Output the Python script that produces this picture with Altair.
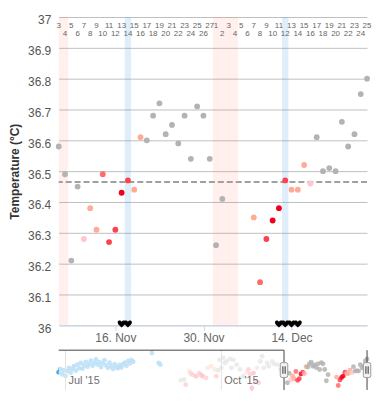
import altair as alt
import pandas as pd
from datetime import date, timedelta

FONT = "Liberation Sans"

# ---------------- main window data (Nov 7 – Dec 26, 2015) ----------------
main_dates = [
    "2015-11-07", "2015-11-08", "2015-11-09", "2015-11-10", "2015-11-11", "2015-11-12",
    "2015-11-13", "2015-11-14", "2015-11-15", "2015-11-16", "2015-11-17", "2015-11-18",
    "2015-11-19", "2015-11-20", "2015-11-21", "2015-11-22", "2015-11-23", "2015-11-24",
    "2015-11-25", "2015-11-26", "2015-11-27", "2015-11-28", "2015-11-29", "2015-11-30",
    "2015-12-01", "2015-12-02", "2015-12-03",
    "2015-12-08", "2015-12-09", "2015-12-10", "2015-12-11", "2015-12-12", "2015-12-13",
    "2015-12-14", "2015-12-15", "2015-12-16", "2015-12-17", "2015-12-18", "2015-12-19",
    "2015-12-20", "2015-12-21", "2015-12-22", "2015-12-23", "2015-12-24", "2015-12-25",
    "2015-12-26",
]
main_temps = [
    36.58, 36.49, 36.21, 36.45, 36.28, 36.38, 36.31, 36.49, 36.27, 36.31, 36.43, 36.47,
    36.44, 36.61, 36.60, 36.68, 36.72, 36.62, 36.65, 36.59, 36.68, 36.54, 36.71, 36.68,
    36.54, 36.26, 36.41,
    36.35, 36.14, 36.28, 36.34, 36.38, 36.47, 36.44, 36.44, 36.52, 36.46, 36.61, 36.50,
    36.51, 36.50, 36.66, 36.58, 36.62, 36.75, 36.80,
]
main_levels = [
    "0", "0", "0", "0", "1", "2", "2", "3", "4", "4", "5", "4",
    "2", "2", "0", "0", "0", "0", "0", "0", "0", "0", "0", "0",
    "0", "0", "0",
    "2", "3", "4", "5", "5", "4", "2", "2", "2", "1", "0", "0",
    "0", "0", "0", "0", "0", "0", "0",
]

# ---------------- earlier data, only visible in the navigator ----------------
past_dates = [
    "2015-06-27", "2015-06-28", "2015-06-29", "2015-06-30", "2015-07-01", "2015-07-02",
    "2015-07-03", "2015-07-04", "2015-07-05", "2015-07-06", "2015-07-07", "2015-07-08",
    "2015-07-09", "2015-07-10", "2015-07-11", "2015-07-12", "2015-07-13", "2015-07-14",
    "2015-07-15", "2015-07-16", "2015-07-17", "2015-07-18", "2015-07-19", "2015-07-20",
    "2015-07-21", "2015-07-22", "2015-07-23", "2015-07-24", "2015-07-25", "2015-07-26",
    "2015-07-27", "2015-07-28", "2015-07-29", "2015-07-30", "2015-07-31", "2015-08-01",
    "2015-08-02", "2015-08-03", "2015-08-04", "2015-08-05", "2015-08-06", "2015-08-07",
    "2015-08-08", "2015-08-09", "2015-08-10", "2015-08-21", "2015-08-25", "2015-08-26",
    "2015-09-07", "2015-09-09", "2015-09-10", "2015-09-12", "2015-09-13", "2015-09-14",
    "2015-09-16", "2015-09-18", "2015-09-19", "2015-09-20", "2015-09-22", "2015-09-23",
    "2015-09-25", "2015-09-27", "2015-09-28", "2015-09-29", "2015-09-30", "2015-10-01",
    "2015-10-02", "2015-10-03", "2015-10-04", "2015-10-06", "2015-10-07", "2015-10-08",
    "2015-10-10", "2015-10-12", "2015-10-14", "2015-10-16", "2015-10-17", "2015-10-18",
    "2015-10-19", "2015-10-20", "2015-10-21", "2015-10-22", "2015-10-23", "2015-10-24",
    "2015-10-25", "2015-10-26", "2015-10-28", "2015-10-29", "2015-10-31", "2015-11-01",
    "2015-11-03", "2015-11-05",
]
past_temps = [
    36.47, 36.55, 36.42, 36.52, 36.38, 36.50, 36.58, 36.46, 36.55, 36.62, 36.51, 36.66,
    36.57, 36.70, 36.56, 36.64, 36.73, 36.61, 36.68, 36.76, 36.63, 36.70, 36.79, 36.66,
    36.72, 36.60, 36.69, 36.77, 36.64, 36.58, 36.71, 36.62, 36.55, 36.67, 36.60, 36.57,
    36.65, 36.59, 36.67, 36.71, 36.63, 36.75, 36.69, 36.78, 36.73, 36.95, 36.70, 36.66,
    36.27, 36.29, 36.16, 36.50, 36.44, 36.41, 36.37, 36.45, 36.40, 36.37, 36.33, 36.58,
    36.62, 36.54, 36.37, 36.52, 36.78, 36.58, 36.83, 36.70, 36.74, 36.80, 36.58, 36.78,
    36.66, 36.54, 36.37, 36.47, 36.54, 36.42, 36.08, 36.45, 36.25, 36.58, 36.21, 36.74,
    36.87, 36.58, 36.70, 36.62, 36.74, 36.68, 36.66, 36.54,
]
past_levels = ["past"] * 48 + [
    "0", "0", "3", "2", "3", "3", "4", "3", "4", "4", "3", "2",
    "2", "2", "3", "0", "0", "0", "0", "0", "0", "0", "0", "0",
    "0", "0", "0", "2", "3", "3", "4", "4", "3", "2", "3", "0",
    "0", "0", "0", "0", "0", "0", "0", "0",
]

# ---------------- annotations ----------------
period_start = ["2015-11-04T12:00:00", "2015-12-01T12:00:00"]
period_end = ["2015-11-08T12:00:00", "2015-12-05T12:00:00"]
ovulation_start = ["2015-11-17T12:00:00", "2015-12-12T12:00:00"]
ovulation_end = ["2015-11-18T12:00:00", "2015-12-13T12:00:00"]
heart_dates = ["2015-11-17", "2015-11-18", "2015-12-12", "2015-12-13", "2015-12-14", "2015-12-15"]
cover_line = 36.465
cycle_starts = ["2015-11-05", "2015-12-02"]

y_ticks = [36.0, 36.1, 36.2, 36.3, 36.4, 36.5, 36.6, 36.7, 36.8, 36.9, 37.0]
nav_tick_dates = ["2015-07-01", "2015-10-01"]
nav_tick_labels = ["Jul '15", "Oct '15"]
selection = ["2015-11-07", "2015-12-26"]
nav_range = ["2015-06-27", "2015-12-26"]

level_domain = ["past", "0", "1", "2", "3", "4", "5"]
level_colors = ["#2196e0", "#b3b3b3", "#ffc6cf", "#ffab96", "#ff6b6b", "#ff4050", "#f0001e"]

PLOT_W = 310


def ts(s):
    return s if "T" in s else s + "T00:00:00"


def dt(s):
    y, m, d = (int(v) for v in s.split("-"))
    return alt.DateTime(year=y, month=m, date=d)


main_df = pd.DataFrame({"date": [ts(d) for d in main_dates], "temp": main_temps, "level": main_levels})
nav_df = pd.DataFrame({
    "date": [ts(d) for d in past_dates + main_dates],
    "temp": past_temps + main_temps,
    "level": past_levels + main_levels,
})

# cycle-day labels along the top
d0 = date.fromisoformat(selection[0])
d1 = date.fromisoformat(selection[1])
starts = [date.fromisoformat(s) for s in cycle_starts]
rows = []
d = d0
while d <= d1:
    st = max(s for s in starts if s <= d)
    cd = (d - st).days + 1
    rows.append({"date": ts(d.isoformat()), "label": str(cd), "odd": cd % 2 == 1})
    d += timedelta(days=1)
cyc_df = pd.DataFrame(rows)

main_scale = alt.Scale(domain=[dt(selection[0]), dt(selection[1])])
y_scale = alt.Scale(domain=[36, 37], nice=False, zero=False)

x_axis = alt.Axis(
    values=[dt("2015-11-16"), dt("2015-11-30"), dt("2015-12-14")],
    format="%-d. %b", title=None, labelColor="#666666", labelFontSize=12,
    tickColor="#ccd6eb", domainColor="#ccd6eb", tickSize=5, labelPadding=2, grid=False,
)
y_axis = alt.Axis(
    values=y_ticks, format=".1~f", title="Temperature (°C)", titleFontWeight="bold",
    titleFontSize=12, titleColor="#333333", titlePadding=6, labelFontSize=12,
    labelColor="#555555", labelPadding=8, labelOffset=3, ticks=False, domain=False,
    gridColor="#c0c0c0", gridWidth=1,
)


def mx(field):
    return alt.X(field, scale=main_scale, axis=x_axis)


def my(field):
    return alt.Y(field, scale=y_scale, axis=y_axis)


band_df_p = pd.DataFrame({"s": period_start, "e": period_end})
band_df_o = pd.DataFrame({"s": ovulation_start, "e": ovulation_end})

pink = alt.Chart(band_df_p).mark_rect(color="#ff6450", opacity=0.1, clip=True).encode(
    x=mx("s:T"), x2="e:T")
blue = alt.Chart(band_df_o).mark_rect(color="#3ca0e6", opacity=0.17, clip=True).encode(
    x=mx("s:T"), x2="e:T")

cover = alt.Chart(pd.DataFrame({"v": [cover_line]})).mark_rule(
    color="#a0a0a0", strokeWidth=2, strokeDash=[6, 3]).encode(y=my("v:Q"))

points = alt.Chart(main_df).mark_circle(size=34, opacity=1).encode(
    x=mx("date:T"),
    y=my("temp:Q"),
    color=alt.Color("level:N", scale=alt.Scale(domain=level_domain, range=level_colors), legend=None),
)

HEART = ("M0,0.9 C-0.3,0.6 -1,0.15 -1,-0.35 C-1,-0.85 -0.3,-1 0,-0.5 "
         "C0.3,-1 1,-0.85 1,-0.35 C1,0.15 0.3,0.6 0,0.9 Z")
hearts = alt.Chart(pd.DataFrame({"date": [ts(h) for h in heart_dates], "v": [36.0] * len(heart_dates)})).mark_point(
    shape=HEART, filled=True, color="black", size=64, opacity=1, yOffset=-1.5).encode(
    x=mx("date:T"), y=my("v:Q"))

top_odd = alt.Chart(cyc_df[cyc_df["odd"]]).mark_text(
    fontSize=8, color="#666666", baseline="middle").encode(
    x=mx("date:T"), y=alt.value(9), text="label:N")
top_even = alt.Chart(cyc_df[~cyc_df["odd"]]).mark_text(
    fontSize=8, color="#666666", baseline="middle").encode(
    x=mx("date:T"), y=alt.value(17), text="label:N")

main = alt.layer(pink, blue, cover, points, hearts, top_odd, top_even).properties(width=PLOT_W, height=310)

# ---------------- navigator ----------------
nav_scale = alt.Scale(domain=[dt(nav_range[0]), dt(nav_range[1])])
nav_y = alt.Scale(domain=[36.03, 37.02], nice=False, zero=False)


def nx(field):
    return alt.X(field, scale=nav_scale, axis=None)


nav_pts = alt.Chart(nav_df).mark_circle(size=24, opacity=0.85).encode(
    x=nx("date:T"),
    y=alt.Y("temp:Q", scale=nav_y, axis=None),
    color=alt.Color("level:N", scale=alt.Scale(domain=level_domain, range=level_colors), legend=None),
)
mask = alt.Chart(pd.DataFrame({"s": [ts(nav_range[0])], "e": [ts(selection[0])]})).mark_rect(
    color="white", opacity=0.7).encode(x=nx("s:T"), x2="e:T")
nav_grid = alt.Chart(pd.DataFrame({"date": [ts(t) for t in nav_tick_dates]})).mark_rule(
    color="#e3e3e3").encode(x=nx("date:T"))
nav_lbl = alt.Chart(pd.DataFrame({"date": [ts(t) for t in nav_tick_dates], "label": nav_tick_labels})).mark_text(
    align="left", dx=3, baseline="middle", fontSize=11, color="#707070").encode(
    x=nx("date:T"), y=alt.value(31), text="label:N")
outline_top = alt.Chart(pd.DataFrame({"s": [ts(nav_range[0])], "e": [ts(selection[0])]})).mark_rule(
    color="#444444").encode(x=nx("s:T"), x2="e:T", y=alt.value(0))
outline_sides = alt.Chart(pd.DataFrame({"date": [ts(s) for s in selection]})).mark_rule(
    color="#444444").encode(x=nx("date:T"))

HANDLE = ("M-0.5,-0.75 Q-0.5,-1 -0.25,-1 L0.25,-1 Q0.5,-1 0.5,-0.75 L0.5,0.75 "
          "Q0.5,1 0.25,1 L-0.25,1 Q-0.5,1 -0.5,0.75 Z")
GRIP = "M-0.15,-0.5 L-0.15,0.5 M0.15,-0.5 L0.15,0.5"
handle_df = pd.DataFrame({"date": [ts(s) for s in selection]})
handles = alt.Chart(handle_df).mark_point(
    shape=HANDLE, filled=True, fill="#f2f2f2", stroke="#999999", strokeWidth=1, size=225, opacity=1).encode(
    x=nx("date:T"), y=alt.value(20))
grips = alt.Chart(handle_df).mark_point(
    shape=GRIP, filled=False, stroke="#333333", strokeWidth=1, size=225, opacity=1).encode(
    x=nx("date:T"), y=alt.value(20))

nav = alt.layer(nav_pts, mask, nav_grid, nav_lbl, outline_top, outline_sides, handles, grips).properties(
    width=PLOT_W, height=40)

chart = alt.vconcat(main, nav, spacing=25, bounds="flush").resolve_scale(
    x="independent", y="independent", color="shared"
).properties(
    padding={"left": 0, "top": 5, "right": 0, "bottom": 0},
).configure(font=FONT).configure_view(stroke=None)

chart.save("out.html", embed_options={"renderer": "svg", "actions": False})
